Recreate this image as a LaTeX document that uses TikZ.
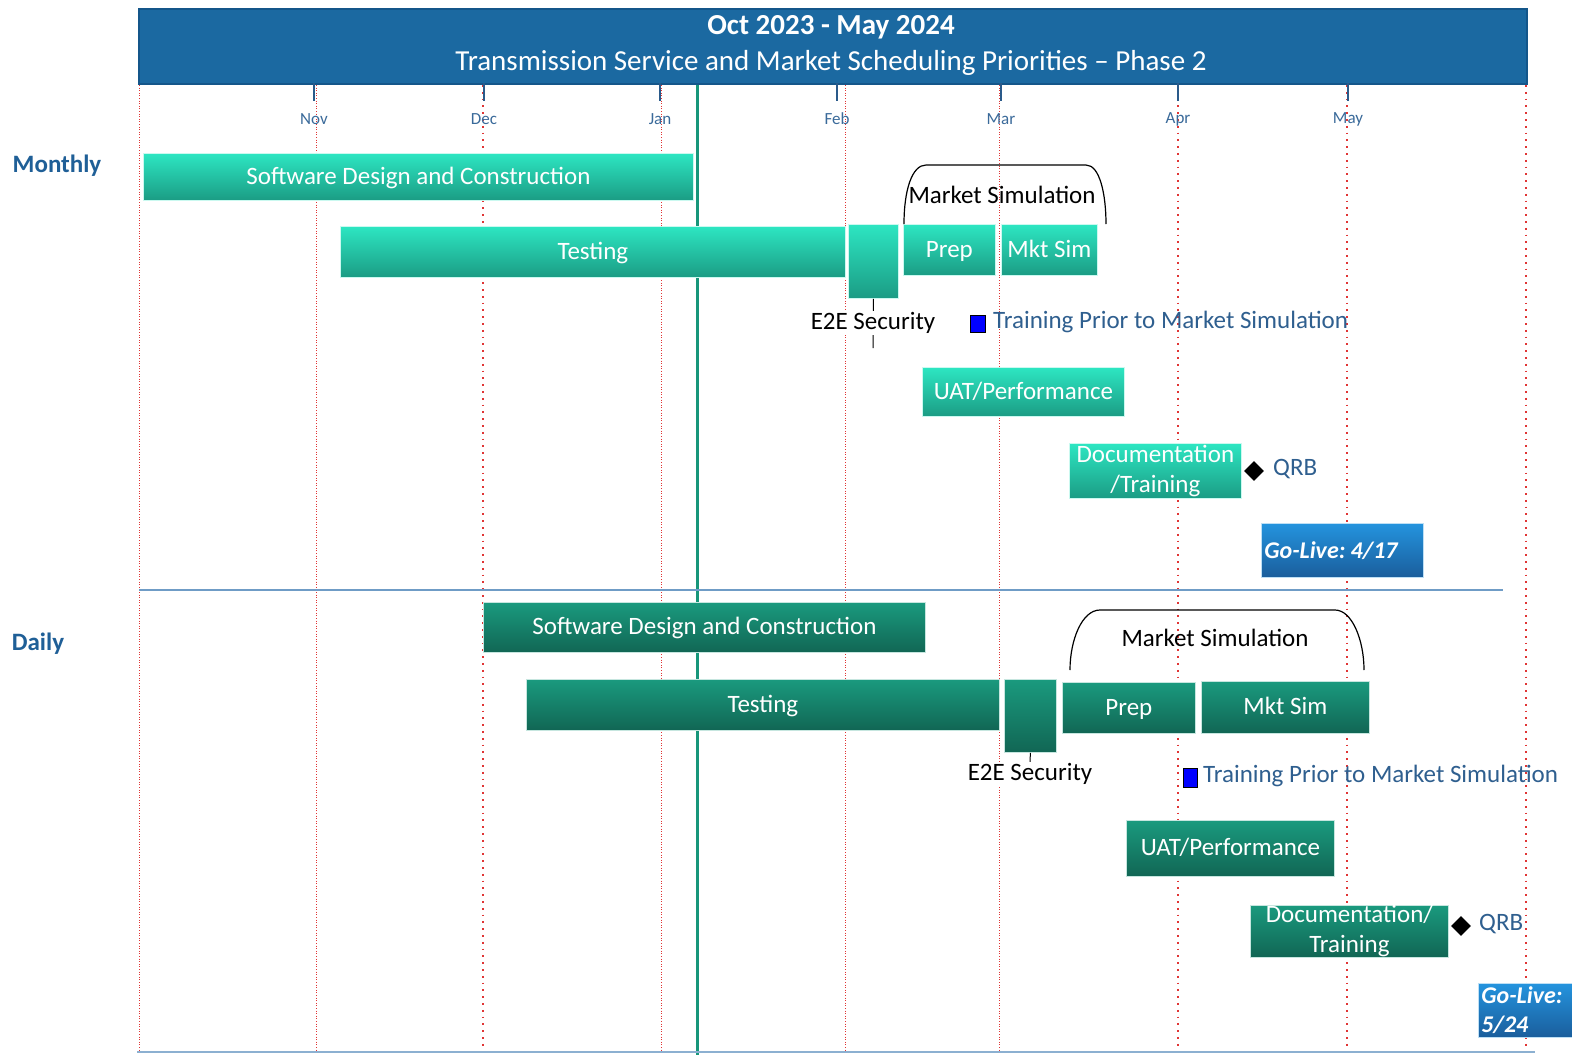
\documentclass[tikz,border=0pt]{standalone}
\usepackage{fontspec}
\setmainfont{Carlito}
\usetikzlibrary{shapes.geometric}
\definecolor{hdr}{HTML}{1B69A1}
\definecolor{hdrb}{HTML}{14568A}
\definecolor{ltA}{HTML}{2DE6C2}
\definecolor{ltB}{HTML}{1B9C84}
\definecolor{dkA}{HTML}{1A9A7E}
\definecolor{dkB}{HTML}{116654}
\definecolor{glA}{HTML}{2494DE}
\definecolor{glB}{HTML}{1A5E9C}
\definecolor{txtblue}{HTML}{2F5F8F}
\definecolor{lblblue}{HTML}{1F5F97}
\definecolor{monthblue}{HTML}{3A6A9A}
\definecolor{tickblue}{HTML}{2A5A8A}
\definecolor{dotred}{HTML}{E03535}
\definecolor{today}{HTML}{17967A}
\definecolor{sepblue}{HTML}{6F9CC6}
\begin{document}
\begin{tikzpicture}[x=1pt,y=-1pt,
  barbase/.style={rectangle, inner sep=0pt, anchor=north west, text=white,
    font=\fontsize{25}{30}\selectfont, line width=0.8pt},
  oneline/.style={text height=20pt, text depth=5pt},
  twoline/.style={align=center},
  lbar/.style={barbase, top color=ltA, bottom color=ltB, draw=white!75!ltA},
  dbar/.style={barbase, top color=dkA, bottom color=dkB, draw=white!75!dkA},
  golive/.style={rectangle, anchor=north west, inner xsep=3pt, inner ysep=0pt,
    top color=glA, bottom color=glB, draw=white!70!glA, line width=0.8pt,
    text=white, align=left, font=\fontsize{24}{29}\selectfont\bfseries\itshape},
  finedot/.style={dotred, line width=1pt, dash pattern=on 1pt off 1.6pt},
  bigdot/.style={dotred, line width=1.8pt, dash pattern=on 1.8pt off 5pt},
  mtick/.style={tickblue, line width=2pt},
  mlabel/.style={monthblue, font=\fontsize{17}{19}\selectfont},
  plain/.style={font=\fontsize{25}{29}\selectfont},
  bluetxt/.style={txtblue, font=\fontsize{25}{29}\selectfont, anchor=west, inner sep=0pt},
  bracket/.style={black, line width=1.2pt},
  sqmark/.style={rectangle, fill=blue, draw=black, line width=0.8pt, inner sep=0pt},
  qrbmark/.style={diamond, fill=black, inner sep=0pt, minimum width=20pt, minimum height=20pt},
  seclabel/.style={lblblue, font=\fontsize{25}{29}\selectfont\bfseries}
]
\useasboundingbox (0,0) rectangle (1572,1058);
\fill[white] (0,0) rectangle (1572,1058);

% vertical month dotted lines
\foreach \xx in {139,316,661,845,999} \draw[finedot] (\xx,85) -- (\xx,1050);
\foreach \xx in {483,1178,1347,1526} \draw[bigdot] (\xx,85) -- (\xx,1050);

% today line
\coordinate (todayTop) at (697,83);
\coordinate (todayBot) at (697,1055);
\draw[today, line width=3pt] (todayTop) -- (todayBot);

% separators
\coordinate (sepL) at (139,590);
\coordinate (sepR) at (1503,590);
\draw[sepblue, line width=1.5pt] (sepL) -- (sepR);
\coordinate (botL) at (137,1052);
\coordinate (botR) at (1535,1052);
\draw[sepblue!80, line width=2.5pt] (botL) -- (botR);

% header
\node[rectangle, fill=hdr, draw=hdrb, line width=2pt, minimum width=1388pt, minimum height=75pt,
  inner sep=0pt, anchor=north west] (header) at (138,8) {};
\node[text=white, font=\fontsize{29}{33}\selectfont\bfseries] (title1) at (831,27) {Oct 2023 - May 2024};
\node[text=white, font=\fontsize{29}{33}\selectfont] (title2) at (831,63) {Transmission Service and Market Scheduling Priorities -- Phase 2};

% month ticks and labels
\foreach \xx/\mm in {314/Nov,484/Dec,660/Jan,837/Feb,1001/Mar,1178/Apr,1348/May}{
  \draw[mtick] (\xx,83) -- (\xx,101);
  \node[mlabel] (m\mm) at (\xx,119) {\mm};
}

% section labels
\node[seclabel] (monthly) at (57,166) {Monthly};
\node[seclabel] (daily) at (38,644) {Daily};

% ===== Monthly =====
\node[lbar, oneline, minimum width=550pt, minimum height=47pt] (msdc) at (143,153) {Software Design and Construction};
\node[lbar, oneline, minimum width=505pt, minimum height=51pt] (mtest) at (340,226) {Testing};
\node[lbar, minimum width=50pt, minimum height=74pt] (me2e) at (848,224) {};
\node[lbar, oneline, minimum width=92pt, minimum height=51pt] (mprep) at (903,224) {Prep};
\node[lbar, oneline, minimum width=96pt, minimum height=51pt] (mmkt) at (1001,224) {Mkt Sim};
\draw[bracket] (904,224) .. controls (904,190) and (912,165) .. (926,165) -- (1086,165)
  .. controls (1100,165) and (1106,195) .. (1106,224);
\node[plain, inner sep=1pt] (mmslabel) at (1002,195) {Market Simulation};
\coordinate (me2eEnd) at (873,348);
\draw[black, line width=1pt] (me2e.south) -- (me2eEnd);
\node[plain, fill=white, inner sep=1pt] (me2elabel) at (873,323) {E2E Security};
\node[sqmark, minimum width=15pt, minimum height=17pt] (msq) at (978,324) {};
\node[bluetxt] (mtrain) at (993,322) {Training Prior to Market Simulation};
\node[lbar, oneline, minimum width=202pt, minimum height=49pt] (muat) at (922,367) {UAT/Performance};
\node[lbar, twoline, minimum width=172pt, minimum height=55pt] (mdoc) at (1069,443) {Documentation\\/Training};
\node[qrbmark] (mqrbd) at (1254,471) {};
\node[bluetxt] (mqrb) at (1273,469) {QRB};
\node[golive, minimum width=162pt, minimum height=54pt, text width=156pt] (mgo) at (1261,523) {Go-Live:\hspace{0.22em}4/17};

% ===== Daily =====
\node[dbar, oneline, minimum width=442pt, minimum height=50pt] (dsdc) at (483,602) {Software Design and Construction};
\node[dbar, oneline, minimum width=473pt, minimum height=51pt] (dtest) at (526,679) {Testing};
\node[dbar, minimum width=52pt, minimum height=73pt] (de2e) at (1004,679) {};
\node[dbar, oneline, minimum width=133pt, minimum height=51pt] (dprep) at (1062,682) {Prep};
\node[dbar, oneline, minimum width=168pt, minimum height=52pt] (dmkt) at (1201,681) {Mkt Sim};
\draw[bracket] (1070,670) .. controls (1070,640) and (1082,610) .. (1100,610) -- (1335,610)
  .. controls (1352,610) and (1364,640) .. (1364,670);
\node[plain, inner sep=1pt] (dmslabel) at (1215,638) {Market Simulation};
\coordinate (de2eEnd) at (1030,762);
\draw[black, line width=1pt] (de2e.south) -- (de2eEnd);
\node[plain, fill=white, inner sep=1pt] (de2elabel) at (1030,774) {E2E Security};
\node[sqmark, minimum width=14pt, minimum height=19pt] (dsq) at (1190,778) {};
\node[bluetxt] (dtrain) at (1203,776) {Training Prior to Market Simulation};
\node[dbar, oneline, minimum width=208pt, minimum height=56pt] (duat) at (1126,820) {UAT/Performance};
\node[dbar, twoline, minimum width=198pt, minimum height=50pt] (ddoc) at (1250,905) {Documentation/\\Training};
\node[qrbmark] (dqrbd) at (1461,926) {};
\node[bluetxt] (dqrb) at (1479,924) {QRB};
\node[golive, minimum width=110pt, minimum height=54pt, text width=104pt] (dgo) at (1478,983) {Go-Live:\\5/24};
\end{tikzpicture}
\end{document}
